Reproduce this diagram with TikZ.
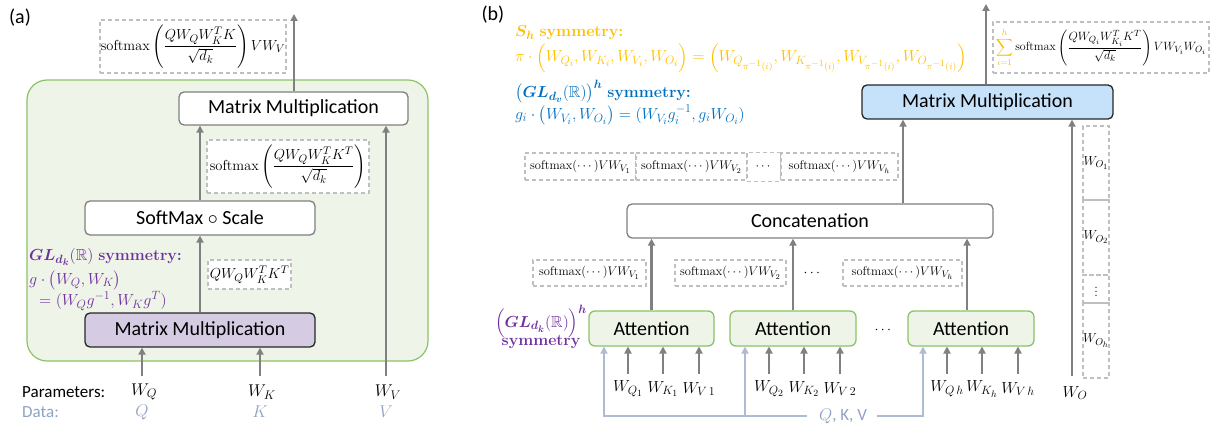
\RequirePackage{fix-cm}
\documentclass[tikz,border=0pt]{standalone}
\usepackage{amsmath,amssymb,bm}
\usepackage[no-math]{fontspec}
\newfontfamily\carl{Carlito}
\usetikzlibrary{arrows.meta}

% larger script sizes, closer to a Cambria-like setting
\DeclareMathSizes{12}{12}{9}{7.5}
\DeclareMathSizes{12.5}{12.5}{9.5}{7.5}
\DeclareMathSizes{13}{13}{10}{8}
\DeclareMathSizes{14}{14}{10.5}{8.5}
\DeclareMathSizes{14.5}{14.5}{11}{9}
\DeclareMathSizes{16}{16}{12}{9.5}
\DeclareMathSizes{17}{17}{12.5}{10}

\definecolor{arrgray}{HTML}{808080}
\definecolor{boxgray}{HTML}{7F7F7F}
\definecolor{dgray}{HTML}{BFBFBF}
\definecolor{greenfill}{HTML}{EEF5E8}
\definecolor{greenline}{HTML}{8CC266}
\definecolor{lavender}{HTML}{D5CCE4}
\definecolor{lightblue}{HTML}{C5E2FA}
\definecolor{darkline}{HTML}{262626}
\definecolor{symviolet}{HTML}{7030A0}
\definecolor{symgold}{HTML}{FFC000}
\definecolor{symblue}{HTML}{0070C0}
\definecolor{datac}{HTML}{8FA2C0}
\definecolor{qkvc}{HTML}{ADBBD3}

\newcommand{\fs}[1]{\fontsize{#1}{#1}\selectfont}

\begin{document}
\begin{tikzpicture}[x=1pt,y=-1pt,
  arr/.style={draw=arrgray, line width=2.6pt, -{Triangle[length=7pt,width=7pt]}},
  qarr/.style={draw=qkvc, line width=2.6pt, -{Triangle[length=7pt,width=7pt]}},
  dbox/.style={draw=dgray, line width=1.1pt, dash pattern=on 4pt off 3pt, inner sep=0pt, fill=white},
  opbox/.style={draw=boxgray, line width=1.3pt, rounded corners=5pt, fill=white, inner sep=0pt,
    font=\carl\fs{20}},
  attn/.style={draw=greenline, line width=1.3pt, rounded corners=6pt, fill=greenfill, inner sep=0pt,
    minimum width=126pt, minimum height=35pt, font=\carl\fs{20}},
  lbl/.style={inner sep=0pt, font=\carl\fs{17}},
  plab/.style={inner sep=0pt, font=\fs{17}},
  blab/.style={inner sep=0pt, font=\fs{16}},
  txt/.style={inner sep=0pt, anchor=west, font=\fs{16}},
  smx/.style={dbox, minimum height=27pt, font=\fs{12.5}},
]
\useasboundingbox (0,0) rectangle (1222,427);

%% ---------------- (a) single-head attention ----------------
\node[lbl, font=\carl\fs{20}] (la) at (20,18) {(a)};

\draw[draw=greenline, line width=1.2pt, fill=greenfill, rounded corners=20pt] (27,80) rectangle (428,361);

\node[dbox, minimum width=186pt, minimum height=53pt, font=\fs{14.5}] (outA) at (193,46.5)
  {$\mathrm{softmax}\left(\dfrac{QW_QW_K^TK}{\sqrt{d_k}}\right)VW_V$};

\node[opbox, minimum width=229pt, minimum height=33pt] (mmTop) at (293.5,108.5) {Matrix Multiplication};
\node[dbox, minimum width=162pt, minimum height=53pt, font=\fs{14.5}] (smA) at (288,166.5)
  {$\mathrm{softmax}\left(\dfrac{QW_QW_K^TK^T}{\sqrt{d_k}}\right)$};
\node[opbox, minimum width=230pt, minimum height=34pt] (scale) at (200,218) {SoftMax $\circ$ Scale};
\node[dbox, minimum width=83pt, minimum height=29pt, font=\fs{14.5}] (qkA) at (249.5,274.5) {$QW_QW_K^TK^T$};
\node[opbox, fill=lavender, draw=darkline, minimum width=230pt, minimum height=34pt] (mmLow) at (200,330)
  {Matrix Multiplication};

\node[txt, text=symviolet] (glA1) at (29,257) {$\bm{GL_{d_k}}(\mathbb{R})$ \textbf{symmetry:}};
\node[txt, text=symviolet] (glA2) at (29,280) {$g\cdot\bigl(W_Q,W_K\bigr)$};
\node[txt, text=symviolet] (glA3) at (39,301) {$=(W_Qg^{-1},W_Kg^T)$};

\coordinate (outAtip) at (294,14);
\draw[arr] (mmTop.north -| outAtip) -- (outAtip);
\draw[arr] (scale.north) -- (scale.north |- mmTop.south);
\draw[arr] (mmLow.north) -- (mmLow.north |- scale.south);

\coordinate (pq) at (142,376);
\coordinate (pk) at (260,376);
\coordinate (pv) at (386,376);
\draw[arr] (pq) -- (pq |- mmLow.south);
\draw[arr] (pk) -- (pk |- mmLow.south);
\draw[arr] (pv) -- (pv |- mmTop.south);

\node[lbl, anchor=west] (params) at (22,392) {Parameters:};
\node[plab] (lwq) at (144,392) {$W_Q$};
\node[plab] (lwk) at (262,392) {$W_K$};
\node[plab] (lwv) at (388,392) {$W_V$};
\node[lbl, anchor=west, text=datac] (data) at (22,412) {Data:};
\node[plab, text=datac] (lq) at (142,412) {$Q$};
\node[plab, text=datac] (lk) at (260,412) {$K$};
\node[plab, text=datac] (lv) at (386,412) {$V$};

%% ---------------- (b) multi-head attention ----------------
\node[lbl, font=\carl\fs{20}] (lb) at (493,15) {(b)};

\node[txt, text=symgold] (sh1) at (515,33) {$\bm{S_h}$ \textbf{symmetry:}};
\node[txt, text=symgold] (sh2) at (515,58)
  {$\pi\cdot\Bigl(W_{Q_i},W_{K_i},W_{V_i},W_{O_i}\Bigr)=\Bigl(W_{Q_{\pi^{-1}(i)}},W_{K_{\pi^{-1}(i)}},W_{V_{\pi^{-1}(i)}},W_{O_{\pi^{-1}(i)}}\Bigr)$};
\node[txt, text=symblue] (gv1) at (515,92) {$\bigl(\bm{GL_{d_v}}(\mathbb{R})\bigr)^{\bm h}$ \textbf{symmetry:}};
\node[txt, text=symblue] (gv2) at (515,115) {$g_i\cdot\bigl(W_{V_i},W_{O_i}\bigr)=(W_{V_i}g_i^{-1},g_iW_{O_i})$};

\node[opbox, fill=lightblue, draw=darkline, minimum width=251pt, minimum height=34pt] (mmB) at (987.5,102)
  {Matrix Multiplication};
\node[dbox, minimum width=216pt, minimum height=51pt, font=\fs{12}] (outB) at (1101,47.5)
  {$\textcolor{symgold}{\displaystyle\sum_{i=1}^{h}}\,\mathrm{softmax}\left(\dfrac{QW_{Q_i}W_{K_i}^TK^T}{\sqrt{d_k}}\right)VW_{V_i}W_{O_i}$};

% concatenated head outputs
\node[smx, minimum width=111pt] (c1) at (580.5,166.5) {$\mathrm{softmax}(\cdots)VW_{V_1}$};
\node[smx, minimum width=111pt] (c2) at (691.5,166.5) {$\mathrm{softmax}(\cdots)VW_{V_2}$};
\node[smx, minimum width=34pt, minimum height=29pt] (c3) at (764,167) {$\cdots$};
\node[smx, minimum width=117pt] (c4) at (839.5,166.5) {$\mathrm{softmax}(\cdots)VW_{V_h}$};

\node[opbox, minimum width=366pt, minimum height=34pt] (concat) at (810,221) {Concatenation};

% per-head outputs
\node[smx, minimum width=113pt, minimum height=26pt] (h1) at (589.5,273) {$\mathrm{softmax}(\cdots)VW_{V_1}$};
\node[smx, minimum width=111pt, minimum height=26pt] (h2) at (730.5,273) {$\mathrm{softmax}(\cdots)VW_{V_2}$};
\node[inner sep=0pt, font=\fs{14}] (hd) at (813,273) {$\cdots$};
\node[smx, minimum width=119pt, minimum height=26pt] (h3) at (902.5,273) {$\mathrm{softmax}(\cdots)VW_{V_h}$};

% attention heads
\node[attn, minimum width=125pt] (A1) at (651.5,328.5) {Attention};
\node[attn] (A2) at (793,328.5) {Attention};
\node[attn] (A3) at (971,328.5) {Attention};
\node[inner sep=0pt, font=\fs{14}] (ad) at (884,330) {$\cdots$};

\node[inner sep=0pt, text=symviolet, font=\fs{16}, align=center] (glh) at (541,327)
  {$\Bigl(\bm{GL_{d_k}}(\mathbb{R})\Bigr)^{\bm h}$\\[-3pt]\textbf{symmetry}};

% head outputs into concatenation
\draw[arr] (A1.north) -- (A1.north |- concat.south);
\draw[arr] (A2.north) -- (A2.north |- concat.south);
\draw[arr] ([xshift=-4pt]A3.north) -- ([xshift=-4pt]A3.north |- concat.south);
\coordinate (cx) at (903,0);
\draw[arr] (concat.north -| cx) -- (mmB.south -| cx);
\coordinate (outBtip) at (986,4);
\draw[arr] (mmB.north -| outBtip) -- (outBtip);

% output projection
\coordinate (wo) at (1072,376);
\draw[arr] (wo) -- (wo |- mmB.south);
\node[dbox, fill=none, minimum width=26pt, minimum height=74pt, font=\fs{13}] (o1) at (1096,163) {$W_{O_1}$};
\node[dbox, fill=none, minimum width=26pt, minimum height=75pt, font=\fs{13}] (o2) at (1096,237.5) {$W_{O_2}$};
\node[dbox, fill=none, minimum width=26pt, minimum height=28pt, font=\fs{13}] (o3) at (1096,289) {$\vdots$};
\node[dbox, fill=none, minimum width=26pt, minimum height=75pt, font=\fs{13}] (o4) at (1096,340.5) {$W_{O_h}$};
\node[blab] (lwo) at (1075,393) {$W_O$};

% per-head parameters
\foreach \hx/\nm/\qq/\kk/\vv in {628/1/Q_1/K_1/V\,1, 769/2/Q_2/K_2/V\,2, 947/3/Q\,h/K_h/V\,h}{
  \coordinate (wq\nm) at (\hx,374);
  \coordinate (wk\nm) at (\hx+35,374);
  \coordinate (wv\nm) at (\hx+71,374);
  \draw[arr] (wq\nm) -- ++(0,-27.5);
  \draw[arr] (wk\nm) -- ++(0,-27.5);
  \draw[arr] (wv\nm) -- ++(0,-27.5);
  \node[blab] at (\hx,389) {$W_{\qq}$};
  \node[blab] at (\hx+35,389) {$W_{\kk}$};
  \node[blab] at (\hx+71,389) {$W_{\vv}$};
}

% shared data Q, K, V
\node[inner sep=0pt, text=datac, font=\carl\fs{17}] (qkvt) at (843,416) {$Q$, K, V};
\coordinate (q1) at (604,346.6);
\coordinate (q2) at (745,346.6);
\coordinate (q3) at (923,346.6);
\draw[qarr] ([xshift=-12pt]qkvt.west) -| (q1);
\draw[qarr] (q2 |- qkvt) -- (q2);
\draw[qarr] ([xshift=10pt]qkvt.east) -| (q3);
\end{tikzpicture}
\end{document}
